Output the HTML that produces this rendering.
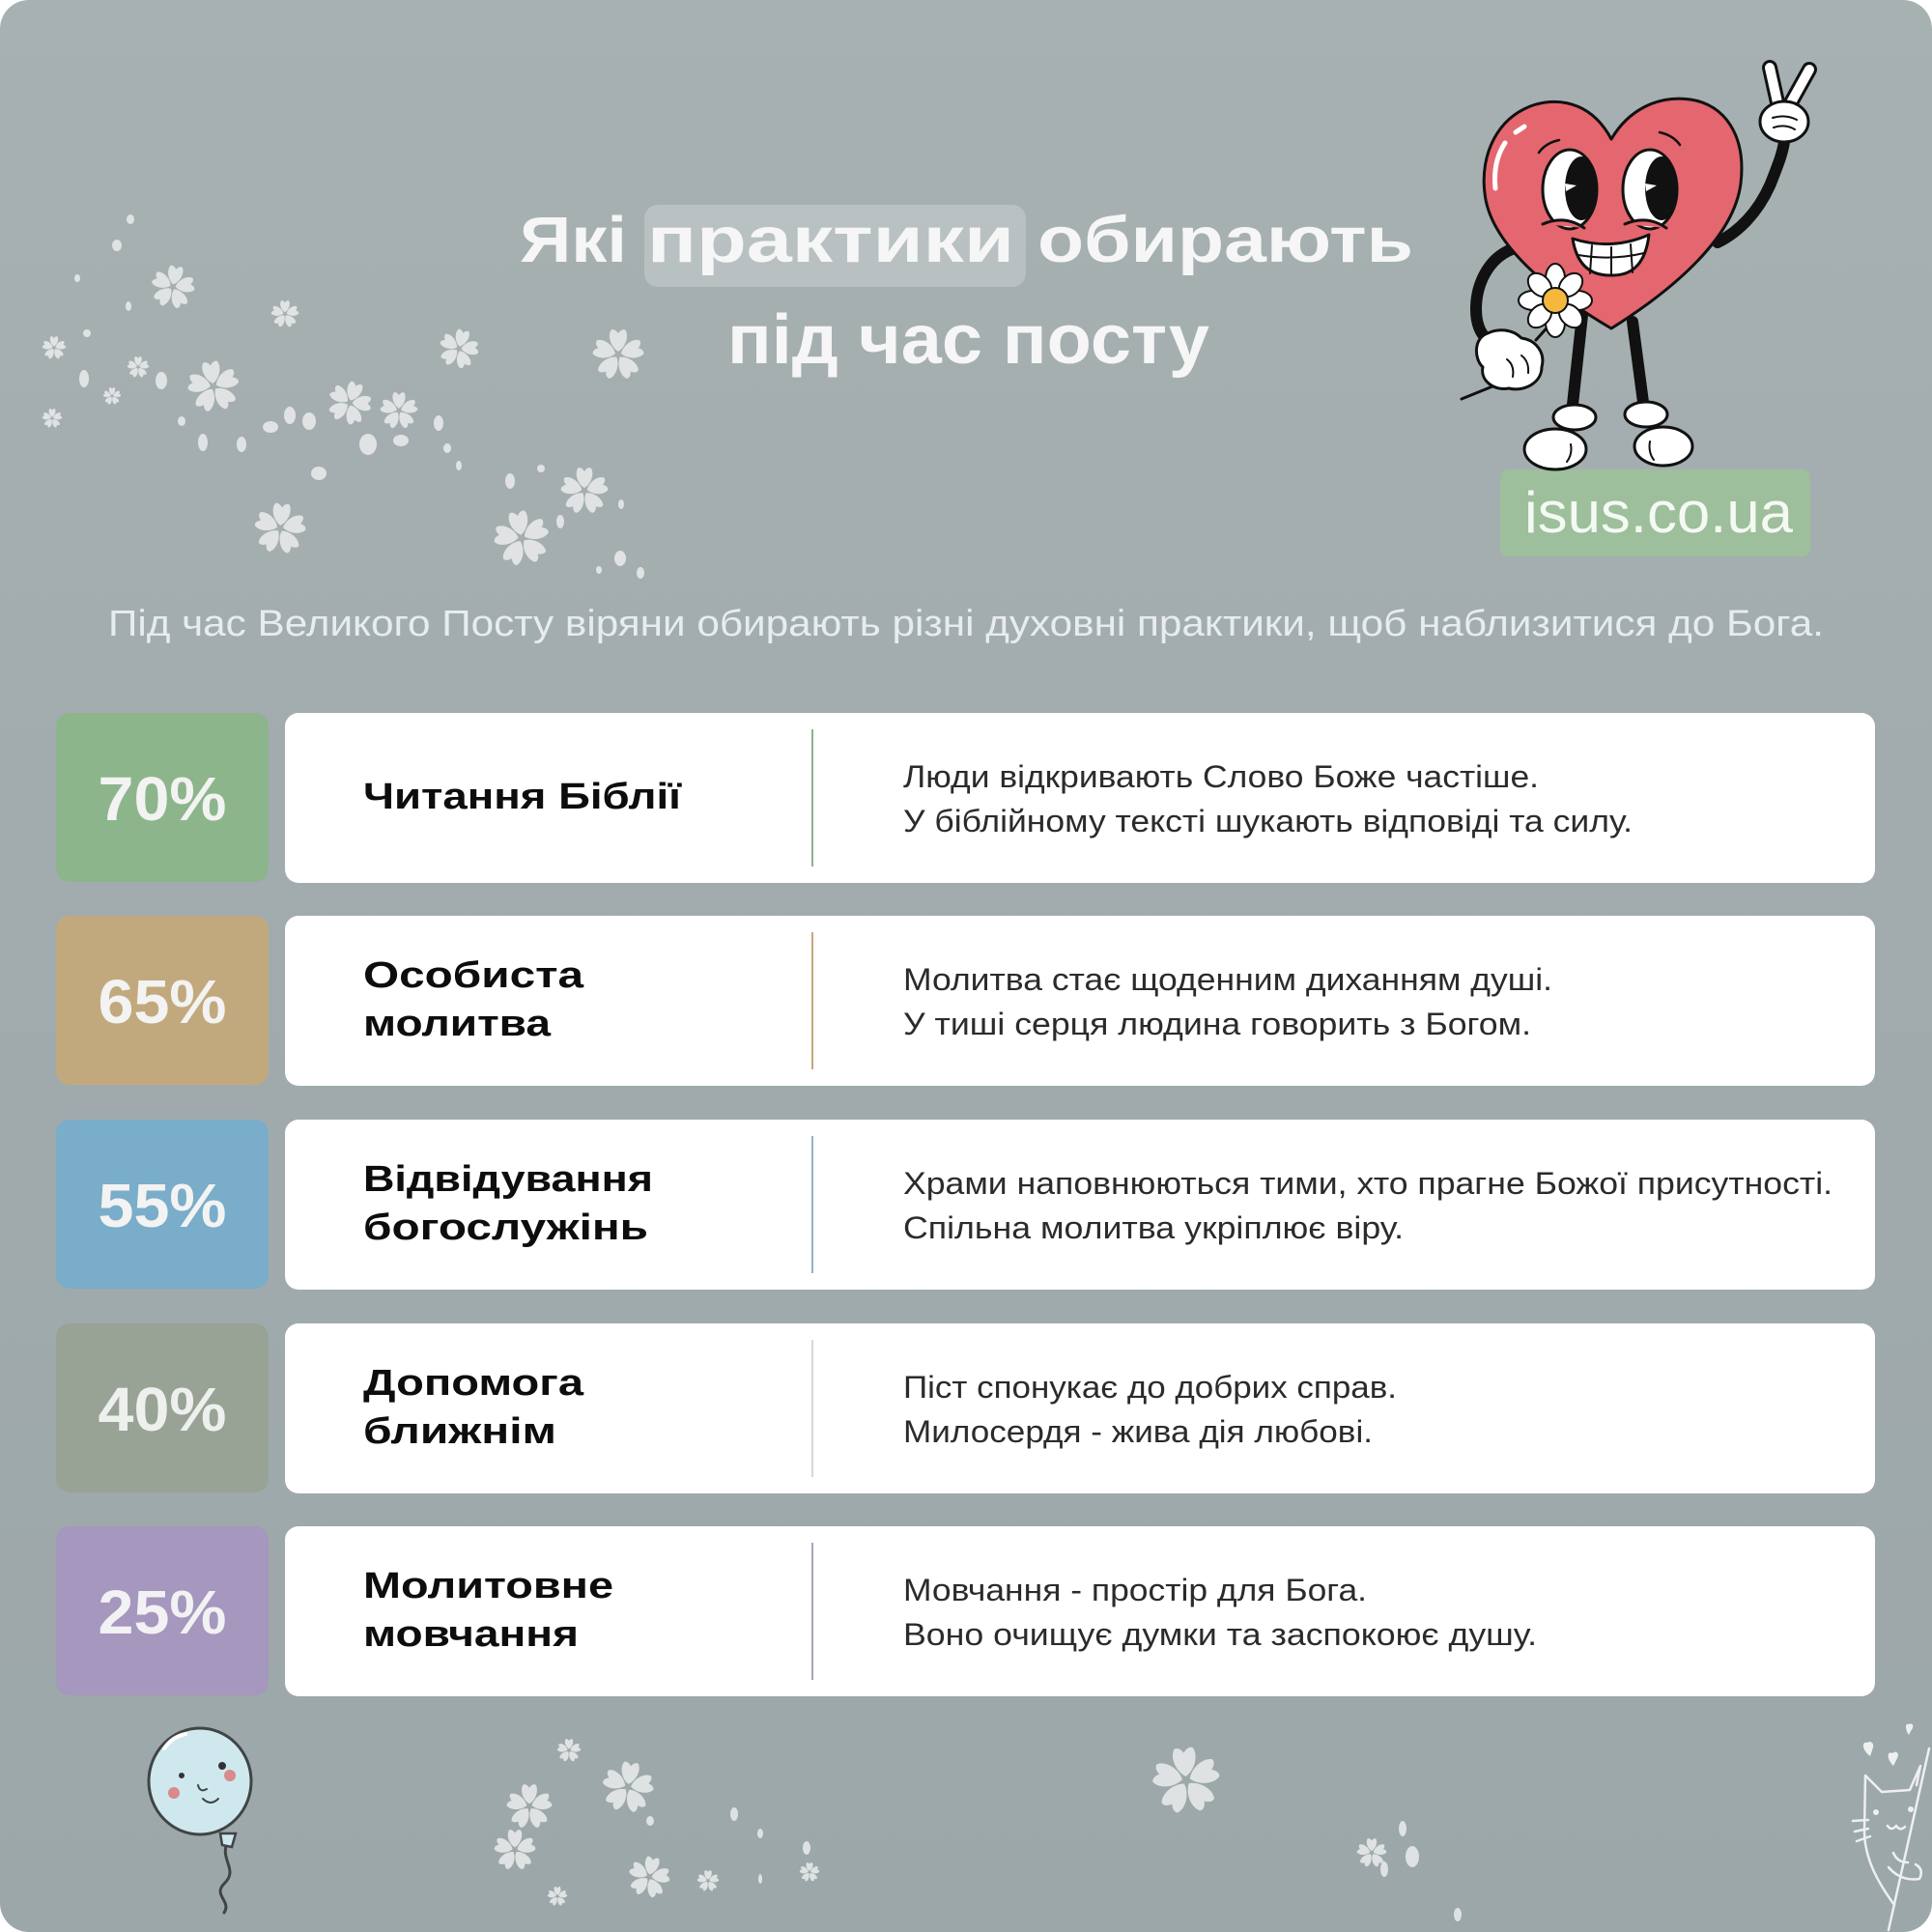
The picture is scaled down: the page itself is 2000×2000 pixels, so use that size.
<!DOCTYPE html>
<html><head><meta charset="utf-8">
<style>
html,body{margin:0;padding:0;background:#fff;}
svg{display:block;}
.t{font-family:"Liberation Sans","Noto Sans CJK SC",sans-serif;}
</style></head>
<body>
<svg width="2000" height="2000" viewBox="0 0 2000 2000" xmlns="http://www.w3.org/2000/svg">
<defs>
<linearGradient id="bg" x1="0" y1="0" x2="0" y2="1">
<stop offset="0" stop-color="#a7b1b2"/>
<stop offset="0.5" stop-color="#a1abad"/>
<stop offset="1" stop-color="#9ca7a9"/>
</linearGradient>
<g id="fl">
<path id="pt" d="M0,-0.12 C-0.3,-0.3 -0.44,-0.75 -0.28,-0.98 Q-0.14,-1.04 0,-0.84 Q0.14,-1.04 0.28,-0.98 C0.44,-0.75 0.3,-0.3 0,-0.12 Z"/>
<use href="#pt" transform="rotate(72)"/>
<use href="#pt" transform="rotate(144)"/>
<use href="#pt" transform="rotate(216)"/>
<use href="#pt" transform="rotate(288)"/>
</g>
</defs>

<rect x="0" y="0" width="2000" height="2000" rx="30" fill="url(#bg)"/>

<!-- flowers top-left -->
<g fill="#e5e7e7" opacity="0.92">
<use href="#fl" transform="translate(179,297) scale(22) rotate(10)"/>
<use href="#fl" transform="translate(295,325) scale(14)"/>
<use href="#fl" transform="translate(56,360) scale(12)"/>
<use href="#fl" transform="translate(221,400) scale(26) rotate(-8)"/>
<use href="#fl" transform="translate(475,361) scale(20) rotate(15)"/>
<use href="#fl" transform="translate(640,367) scale(26)"/>
<use href="#fl" transform="translate(362,417) scale(22) rotate(20)"/>
<use href="#fl" transform="translate(413,425) scale(19)"/>
<use href="#fl" transform="translate(143,380) scale(11)"/>
<use href="#fl" transform="translate(116,410) scale(9)"/>
<use href="#fl" transform="translate(54,433) scale(10)"/>
<use href="#fl" transform="translate(290,547) scale(26) rotate(5)"/>
<use href="#fl" transform="translate(540,557) scale(28) rotate(-10)"/>
<use href="#fl" transform="translate(605,508) scale(24)"/>
<ellipse cx="135" cy="227" rx="4" ry="5"/>
<ellipse cx="121" cy="254" rx="5" ry="6"/>
<ellipse cx="80" cy="288" rx="3" ry="4"/>
<ellipse cx="133" cy="317" rx="3" ry="5"/>
<ellipse cx="90" cy="345" rx="4" ry="4"/>
<ellipse cx="87" cy="392" rx="5" ry="9"/>
<ellipse cx="167" cy="394" rx="6" ry="9"/>
<ellipse cx="188" cy="436" rx="4" ry="5"/>
<ellipse cx="210" cy="458" rx="5" ry="9"/>
<ellipse cx="250" cy="460" rx="5" ry="8"/>
<ellipse cx="280" cy="442" rx="8" ry="6"/>
<ellipse cx="300" cy="430" rx="6" ry="9"/>
<ellipse cx="320" cy="436" rx="7" ry="9"/>
<ellipse cx="381" cy="460" rx="9" ry="11"/>
<ellipse cx="415" cy="456" rx="8" ry="6"/>
<ellipse cx="454" cy="438" rx="5" ry="8"/>
<ellipse cx="463" cy="464" rx="4" ry="5"/>
<ellipse cx="475" cy="482" rx="3" ry="5"/>
<ellipse cx="330" cy="490" rx="8" ry="7"/>
<ellipse cx="528" cy="498" rx="5" ry="8"/>
<ellipse cx="560" cy="485" rx="4" ry="4"/>
<ellipse cx="643" cy="522" rx="3" ry="5"/>
<ellipse cx="580" cy="540" rx="4" ry="7"/>
<ellipse cx="642" cy="578" rx="6" ry="8"/>
<ellipse cx="620" cy="590" rx="3" ry="4"/>
<ellipse cx="663" cy="593" rx="4" ry="6"/>
</g>

<!-- flowers bottom -->
<g fill="#e5e7e7" opacity="0.92">
<use href="#fl" transform="translate(589,1812) scale(12)"/>
<use href="#fl" transform="translate(650,1850) scale(26) rotate(8)"/>
<use href="#fl" transform="translate(548,1870) scale(23)"/>
<use href="#fl" transform="translate(1228,1843) scale(34) rotate(-5)"/>
<use href="#fl" transform="translate(533,1915) scale(21)"/>
<use href="#fl" transform="translate(672,1943) scale(21) rotate(12)"/>
<use href="#fl" transform="translate(733,1947) scale(11)"/>
<use href="#fl" transform="translate(577,1963) scale(10)"/>
<use href="#fl" transform="translate(1420,1918) scale(15)"/>
<use href="#fl" transform="translate(838,1938) scale(10)"/>
<ellipse cx="760" cy="1878" rx="4" ry="7"/>
<ellipse cx="787" cy="1898" rx="3" ry="5"/>
<ellipse cx="673" cy="1885" rx="4" ry="5"/>
<ellipse cx="835" cy="1913" rx="4" ry="7"/>
<ellipse cx="1452" cy="1893" rx="4" ry="8"/>
<ellipse cx="1462" cy="1922" rx="7" ry="11"/>
<ellipse cx="1433" cy="1935" rx="4" ry="8"/>
<ellipse cx="1509" cy="1982" rx="4" ry="7"/>
<ellipse cx="787" cy="1945" rx="2" ry="5"/>
</g>

<!-- Title -->
<rect x="667" y="212" width="395" height="85" rx="14" fill="#ffffff" fill-opacity="0.22"/>
<g class="t" fill="#f6f6f6" font-weight="700" font-size="67">
<text x="538" y="271" textLength="111" lengthAdjust="spacingAndGlyphs">Які</text>
<text x="670" y="271" textLength="380" lengthAdjust="spacingAndGlyphs">практики</text>
<text x="1074" y="271" textLength="389" lengthAdjust="spacingAndGlyphs">обирають</text>
<text x="753" y="376" font-size="72" textLength="499" lengthAdjust="spacingAndGlyphs">під час посту</text>
</g>

<!-- Subtitle -->
<text class="t" x="112" y="658" font-size="38" fill="#e8ecec" textLength="1776" lengthAdjust="spacingAndGlyphs">Під час Великого Посту віряни обирають різні духовні практики, щоб наблизитися до Бога.</text>

<!-- isus box -->
<rect x="1553" y="486" width="321" height="90" rx="8" fill="#9dbf9b"/>
<text class="t" x="1578" y="551" font-size="60" fill="#f5f9f3" textLength="278" lengthAdjust="spacingAndGlyphs">isus.co.ua</text>

<!-- Rows -->
<g class="t">
<!-- row 1 -->
<rect x="58" y="738" width="220" height="175" rx="14" fill="#8db58c"/>
<rect x="295" y="738" width="1646" height="176" rx="14" fill="#ffffff"/>
<line x1="841" y1="755" x2="841" y2="897" stroke="#8fb08c" stroke-width="2"/>
<text x="168" y="849" text-anchor="middle" font-size="64" font-weight="700" fill="#f2f3f2" textLength="133" lengthAdjust="spacingAndGlyphs">70%</text>
<text x="376" y="837" font-size="38" font-weight="700" fill="#0d0d0d" textLength="329" lengthAdjust="spacingAndGlyphs">Читання Біблії</text>
<text x="935" y="815" font-size="32" fill="#2b2b2b" textLength="658" lengthAdjust="spacingAndGlyphs">Люди відкривають Слово Боже частіше.</text>
<text x="935" y="861" font-size="32" fill="#2b2b2b" textLength="755" lengthAdjust="spacingAndGlyphs">У біблійному тексті шукають відповіді та силу.</text>

<!-- row 2 -->
<rect x="58" y="948" width="220" height="175" rx="14" fill="#c2a97d"/>
<rect x="295" y="948" width="1646" height="176" rx="14" fill="#ffffff"/>
<line x1="841" y1="965" x2="841" y2="1107" stroke="#c9a679" stroke-width="2"/>
<text x="168" y="1059" text-anchor="middle" font-size="64" font-weight="700" fill="#f2f3f2" textLength="133" lengthAdjust="spacingAndGlyphs">65%</text>
<text x="376" y="1022" font-size="38" font-weight="700" fill="#0d0d0d" textLength="228" lengthAdjust="spacingAndGlyphs">Особиста</text>
<text x="376" y="1072" font-size="38" font-weight="700" fill="#0d0d0d" textLength="194" lengthAdjust="spacingAndGlyphs">молитва</text>
<text x="935" y="1025" font-size="32" fill="#2b2b2b" textLength="672" lengthAdjust="spacingAndGlyphs">Молитва стає щоденним диханням душі.</text>
<text x="935" y="1071" font-size="32" fill="#2b2b2b" textLength="650" lengthAdjust="spacingAndGlyphs">У тиші серця людина говорить з Богом.</text>

<!-- row 3 -->
<rect x="58" y="1159" width="220" height="175" rx="14" fill="#79adc9"/>
<rect x="295" y="1159" width="1646" height="176" rx="14" fill="#ffffff"/>
<line x1="841" y1="1176" x2="841" y2="1318" stroke="#8fb3cf" stroke-width="2"/>
<text x="168" y="1270" text-anchor="middle" font-size="64" font-weight="700" fill="#f2f3f2" textLength="133" lengthAdjust="spacingAndGlyphs">55%</text>
<text x="376" y="1233" font-size="38" font-weight="700" fill="#0d0d0d" textLength="300" lengthAdjust="spacingAndGlyphs">Відвідування</text>
<text x="376" y="1283" font-size="38" font-weight="700" fill="#0d0d0d" textLength="295" lengthAdjust="spacingAndGlyphs">богослужінь</text>
<text x="935" y="1236" font-size="32" fill="#2b2b2b" textLength="962" lengthAdjust="spacingAndGlyphs">Храми наповнюються тими, хто прагне Божої присутності.</text>
<text x="935" y="1282" font-size="32" fill="#2b2b2b" textLength="518" lengthAdjust="spacingAndGlyphs">Спільна молитва укріплює віру.</text>

<!-- row 4 -->
<rect x="58" y="1370" width="220" height="175" rx="14" fill="#98a395"/>
<rect x="295" y="1370" width="1646" height="176" rx="14" fill="#ffffff"/>
<line x1="841" y1="1387" x2="841" y2="1529" stroke="#d4dad2" stroke-width="2"/>
<text x="168" y="1481" text-anchor="middle" font-size="64" font-weight="700" fill="#eef0ee" textLength="133" lengthAdjust="spacingAndGlyphs">40%</text>
<text x="376" y="1444" font-size="38" font-weight="700" fill="#0d0d0d" textLength="228" lengthAdjust="spacingAndGlyphs">Допомога</text>
<text x="376" y="1494" font-size="38" font-weight="700" fill="#0d0d0d" textLength="200" lengthAdjust="spacingAndGlyphs">ближнім</text>
<text x="935" y="1447" font-size="32" fill="#2b2b2b" textLength="511" lengthAdjust="spacingAndGlyphs">Піст спонукає до добрих справ.</text>
<text x="935" y="1493" font-size="32" fill="#2b2b2b" textLength="486" lengthAdjust="spacingAndGlyphs">Милосердя - жива дія любові.</text>

<!-- row 5 -->
<rect x="58" y="1580" width="220" height="175" rx="14" fill="#a597bd"/>
<rect x="295" y="1580" width="1646" height="176" rx="14" fill="#ffffff"/>
<line x1="841" y1="1597" x2="841" y2="1739" stroke="#aaa3bd" stroke-width="2"/>
<text x="168" y="1691" text-anchor="middle" font-size="64" font-weight="700" fill="#f2f1f4" textLength="133" lengthAdjust="spacingAndGlyphs">25%</text>
<text x="376" y="1654" font-size="38" font-weight="700" fill="#0d0d0d" textLength="259" lengthAdjust="spacingAndGlyphs">Молитовне</text>
<text x="376" y="1704" font-size="38" font-weight="700" fill="#0d0d0d" textLength="223" lengthAdjust="spacingAndGlyphs">мовчання</text>
<text x="935" y="1657" font-size="32" fill="#2b2b2b" textLength="480" lengthAdjust="spacingAndGlyphs">Мовчання - простір для Бога.</text>
<text x="935" y="1703" font-size="32" fill="#2b2b2b" textLength="656" lengthAdjust="spacingAndGlyphs">Воно очищує думки та заспокоює душу.</text>
</g>

<!-- Heart character -->
<g stroke="#111" stroke-linecap="round" stroke-linejoin="round">
<path d="M1565,258 C1540,268 1528,295 1528,320 C1528,335 1532,345 1540,352" fill="none" stroke-width="12"/>
<path d="M1778,251 C1800,240 1820,220 1833,190 C1840,172 1845,160 1847,147" fill="none" stroke-width="12"/>
<path d="M1638,326 L1627,428" fill="none" stroke-width="12"/>
<path d="M1690,333 L1702,424" fill="none" stroke-width="12"/>
<path d="M1513,413 L1550,398" fill="none" stroke-width="3"/>
<path d="M1590,352 L1607,333" fill="none" stroke-width="3"/>
<path d="M1668,144 C1650,110 1620,100 1590,108 C1550,120 1532,160 1537,200 C1542,250 1600,300 1668,340 C1735,298 1795,245 1802,190 C1808,140 1785,108 1750,103 C1715,98 1685,115 1668,144 Z" fill="#e4666e" stroke-width="3"/>
<path d="M1548,195 C1546,175 1550,160 1558,148" fill="none" stroke="#fff" stroke-width="5"/>
<path d="M1569,137 L1578,131" fill="none" stroke="#fff" stroke-width="5"/>
<path d="M1593,158 Q1600,148 1614,145" fill="none" stroke-width="2.5"/>
<path d="M1718,137 Q1732,140 1739,150" fill="none" stroke-width="2.5"/>
<ellipse cx="1625" cy="196" rx="28" ry="41" fill="#fff" stroke-width="3"/>
<ellipse cx="1637" cy="195" rx="17" ry="33" fill="#111" stroke="none"/>
<path d="M1620,190 L1632,192 L1621,198 Z" fill="#fff" stroke="none"/>
<ellipse cx="1708" cy="196" rx="28" ry="41" fill="#fff" stroke-width="3"/>
<ellipse cx="1720" cy="195" rx="17" ry="33" fill="#111" stroke="none"/>
<path d="M1703,190 L1715,192 L1704,198 Z" fill="#fff" stroke="none"/>
<path d="M1597,232 Q1620,222 1640,236" fill="#e4666e" stroke-width="3"/>
<path d="M1682,232 Q1705,222 1725,236" fill="#e4666e" stroke-width="3"/>
<path d="M1628,247 Q1668,260 1707,243 Q1702,286 1668,285 Q1634,286 1628,247 Z" fill="#fff" stroke-width="3"/>
<path d="M1634,264 Q1668,270 1702,262 M1648,254 L1646,283 M1668,256 L1668,285 M1688,253 L1690,282" fill="none" stroke-width="2"/>
<g fill="#fff" stroke-width="2">
<ellipse cx="1610" cy="288" rx="10" ry="15"/>
<ellipse cx="1610" cy="334" rx="10" ry="15"/>
<ellipse cx="1587" cy="311" rx="15" ry="10"/>
<ellipse cx="1633" cy="311" rx="15" ry="10"/>
<ellipse cx="1594" cy="295" rx="10" ry="14" transform="rotate(-45 1594 295)"/>
<ellipse cx="1626" cy="295" rx="10" ry="14" transform="rotate(45 1626 295)"/>
<ellipse cx="1594" cy="327" rx="10" ry="14" transform="rotate(45 1594 327)"/>
<ellipse cx="1626" cy="327" rx="10" ry="14" transform="rotate(-45 1626 327)"/>
</g>
<circle cx="1610" cy="311" r="13" fill="#f5b83d" stroke-width="2"/>
<path d="M1540,345 C1525,350 1526,372 1535,380 C1532,395 1548,405 1562,402 C1578,406 1596,396 1596,380 C1600,365 1590,352 1575,350 C1565,340 1550,340 1540,345 Z" fill="#fff" stroke-width="3"/>
<path d="M1560,372 Q1568,378 1566,390 M1575,368 Q1583,374 1582,386" fill="none" stroke-width="2"/>
<path d="M1840,106 L1832,70" fill="none" stroke-width="16"/>
<path d="M1853,108 L1873,72" fill="none" stroke-width="16"/>
<path d="M1840,106 L1832,70" fill="none" stroke="#fff" stroke-width="10"/>
<path d="M1853,108 L1873,72" fill="none" stroke="#fff" stroke-width="10"/>
<ellipse cx="1847" cy="126" rx="25" ry="21" fill="#fff" stroke-width="3"/>
<path d="M1835,122 Q1848,118 1860,124 M1836,132 Q1848,128 1858,134" fill="none" stroke-width="2"/>
<ellipse cx="1610" cy="465" rx="32" ry="21" fill="#fff" stroke-width="3"/>
<ellipse cx="1630" cy="432" rx="22" ry="13" fill="#fff" stroke-width="3"/>
<ellipse cx="1722" cy="462" rx="30" ry="20" fill="#fff" stroke-width="3"/>
<ellipse cx="1704" cy="429" rx="22" ry="13" fill="#fff" stroke-width="3"/>
<path d="M1626,460 Q1628,470 1622,478 M1708,457 Q1706,468 1712,476" fill="none" stroke-width="2"/>
</g>

<!-- balloon -->
<g stroke="#3f4445" stroke-linecap="round">
<path d="M236,1906 C226,1925 248,1935 232,1950 C220,1962 240,1968 232,1980" fill="none" stroke-width="3"/>
<path d="M228,1898 L244,1898 L240,1912 L230,1910 Z" fill="#cfe8ee" stroke-width="2.5"/>
<ellipse cx="207" cy="1844" rx="53" ry="55" fill="#cfe8ee" stroke-width="3"/>
<path d="M170,1810 Q178,1798 192,1795" fill="none" stroke="#fff" stroke-width="4"/>
<circle cx="230" cy="1828" r="4" fill="#333" stroke="none"/>
<circle cx="188" cy="1838" r="3" fill="#333" stroke="none"/>
<circle cx="238" cy="1838" r="6" fill="#d98a8a" stroke="none"/>
<circle cx="180" cy="1856" r="6" fill="#d98a8a" stroke="none"/>
<path d="M205,1848 Q207,1856 214,1852 M210,1862 Q218,1870 226,1862" fill="none" stroke-width="2"/>
</g>

<!-- cat -->
<g fill="none" stroke="#eef0f0" stroke-width="2.5" stroke-linecap="round" stroke-linejoin="round">
<path d="M1997,1810 L1955,1998"/>
<path d="M1961,1972 C1945,1950 1930,1925 1930,1895 L1931,1838 L1948,1855 L1977,1853 L1988,1828 L1984,1848"/>
<path d="M1918,1885 L1934,1884 M1920,1896 L1934,1893 M1922,1906 L1936,1901"/>
<path d="M1954,1890 Q1958,1896 1963,1890 Q1967,1896 1972,1891"/>
<path d="M1960,1918 Q1964,1928 1975,1928 M1955,1933 Q1968,1948 1987,1945 Q1992,1935 1983,1930"/>
</g>
<g fill="#eef0f0">
<circle cx="1942" cy="1876" r="3"/>
<circle cx="1978" cy="1873" r="3"/>
<path d="M1936,1818 C1926,1810 1928,1802 1933,1804 C1935,1802 1942,1803 1938,1812 Z"/>
<path d="M1960,1828 C1952,1820 1954,1812 1959,1815 C1962,1812 1968,1814 1963,1822 Z"/>
<path d="M1976,1796 C1972,1790 1972,1783 1976,1785 C1979,1783 1983,1786 1978,1792 Z"/>
</g>
</svg>
</body></html>
